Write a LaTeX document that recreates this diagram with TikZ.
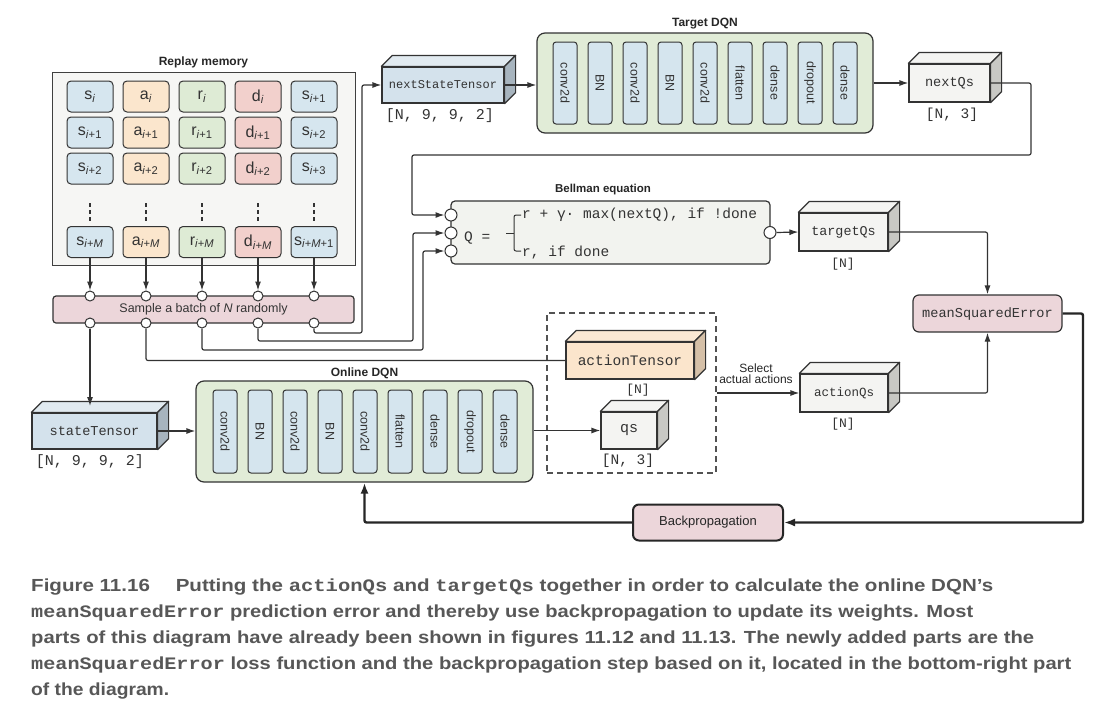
\documentclass[tikz,border=0pt]{standalone}
\usepackage{fontspec}
\setmainfont{Liberation Sans}
\setmonofont{Liberation Mono}
\usetikzlibrary{arrows.meta,calc}
\definecolor{lineC}{HTML}{333333}
\definecolor{sBlue}{HTML}{D6E6EF}
\definecolor{aOrange}{HTML}{FBE6CD}
\definecolor{rGreen}{HTML}{DEEBD5}
\definecolor{dRed}{HTML}{F2D0CC}
\definecolor{memBg}{HTML}{F6F6F4}
\definecolor{pinkBox}{HTML}{ECD6DA}
\definecolor{dqnGreen}{HTML}{E1ECD7}
\definecolor{layerBlue}{HTML}{D5E5EE}
\definecolor{tBlueF}{HTML}{D4E2EC}
\definecolor{tBlueT}{HTML}{E1EAF0}
\definecolor{tBlueS}{HTML}{A7B4BE}
\definecolor{gFront}{HTML}{F4F4F2}
\definecolor{gTop}{HTML}{F4F4F2}
\definecolor{gSide}{HTML}{C8C8C4}
\definecolor{oFront}{HTML}{FBE5CC}
\definecolor{oTop}{HTML}{FBE9D4}
\definecolor{oSide}{HTML}{D5C0A8}
\definecolor{bellBg}{HTML}{F2F3EF}
\definecolor{capC}{HTML}{575757}
\newcommand{\fsz}[1]{\fontsize{#1}{#1}\selectfont}
\newcommand{\capmono}[1]{{\ttfamily\bfseries #1}}
\newcommand{\tensorfaces}[4]{%
  \filldraw[draw=lineC, line width=1.2pt, fill=#2, line join=round]
    (#1.north west) -- ++(#4,-#4) -- ($(#1.north east)+(#4,-#4)$) -- (#1.north east) -- cycle;
  \filldraw[draw=lineC, line width=1.2pt, fill=#3, line join=round]
    (#1.north east) -- ++(#4,-#4) -- ($(#1.south east)+(#4,-#4)$) -- (#1.south east) -- cycle;}
\begin{document}
\begin{tikzpicture}[x=1pt,y=-1pt,
  cell/.style={draw=lineC, line width=1pt, rounded corners=4pt, minimum width=46pt, minimum height=31pt, inner sep=0pt, text=lineC, font=\fsz{16}},
  layer/.style={draw=lineC, line width=1pt, fill=layerBlue, rounded corners=3pt, minimum width=24pt, minimum height=82pt, inner sep=0pt, text=lineC, font=\fsz{12.5}},
  dqn/.style={draw=lineC, line width=1.2pt, fill=dqnGreen, rounded corners=8pt, inner sep=0pt},
  conn/.style={draw=lineC, line width=1.2pt, rounded corners=2pt},
  arr/.style={conn, -{Latex[length=9pt,width=6pt]}},
  heavy/.style={draw=black!85, line width=2.4pt, rounded corners=2pt},
  harr/.style={heavy, -{Latex[length=11pt,width=8pt]}},
  port/.style={circle, draw=lineC, line width=1pt, fill=white, minimum size=10pt, inner sep=0pt},
  bport/.style={port, minimum size=12pt},
  tensor/.style={draw=lineC, line width=1.2pt, inner sep=0pt, text=lineC},
  titlelab/.style={font=\bfseries\fsz{12}, text=black!85},
  dimlab/.style={font=\ttfamily\fsz{14.5}, text=lineC},
  caption/.style={anchor=base west, inner sep=0pt, text=capC, font=\bfseries\fsz{17.5}}
]
\fill[white] (0,0) rectangle (1120,710);
\useasboundingbox (0,0) rectangle (1120,710);

% ---------- Replay memory ----------
\node[draw=black!75, fill=memBg, line width=1pt, minimum width=303pt, minimum height=193pt, inner sep=0pt] (mem) at (203.5,168.5) {};
\node[titlelab] (memt) at (203.5,62) {Replay memory};
\foreach \col/\X/\L/\C in {1/90/s/sBlue,2/146/a/aOrange,3/202/r/rGreen,4/258/d/dRed}{
  \node[cell,fill=\C] (c\col-1) at (\X,96.5) {\L\textsubscript{\textit{i}}};
  \node[cell,fill=\C] (c\col-2) at (\X,132.5) {\L\textsubscript{\textit{i}+1}};
  \node[cell,fill=\C] (c\col-3) at (\X,168.5) {\L\textsubscript{\textit{i}+2}};
  \node[cell,fill=\C] (c\col-4) at (\X,242) {\L\textsubscript{\textit{i}+\textit{M}}};
}
\node[cell,fill=sBlue] (c5-1) at (314,96.5) {s\textsubscript{\textit{i}+1}};
\node[cell,fill=sBlue] (c5-2) at (314,132.5) {s\textsubscript{\textit{i}+2}};
\node[cell,fill=sBlue] (c5-3) at (314,168.5) {s\textsubscript{\textit{i}+3}};
\node[cell,fill=sBlue] (c5-4) at (314,242) {s\textsubscript{\textit{i}+\textit{M}+1}};
\foreach \X in {90,146,202,258,314}{
  \foreach \Y in {205,212,219}{
    \fill[lineC] (\X-1.4,\Y-1.6) rectangle (\X+1.4,\Y+1.6);
  }
}

% ---------- Sample batch ----------
\node[draw=lineC, fill=pinkBox, rounded corners=3pt, line width=1.2pt, minimum width=301pt, minimum height=27pt, inner sep=0pt, text=lineC, font=\fsz{12.5}] (batch) at (203.5,309.5) {Sample a batch of \textit{N} randomly};
\foreach \i/\X in {1/90,2/146,3/202,4/258,5/314}{
  \node[port] (pt\i) at (\X,296) {};
  \node[port] (pb\i) at (\X,323) {};
  \draw[arr] (c\i-4.south) -- (pt\i.north);
}

% ---------- Target DQN ----------
\node[dqn, minimum width=336pt, minimum height=100pt] (tdqn) at (705,83) {};
\node[titlelab] (tdqnt) at (705,24) {Target DQN};
\foreach \i/\t in {0/conv2d,1/BN,2/conv2d,3/BN,4/conv2d,5/flatten,6/dense,7/dropout,8/dense}{
  \node[layer] (tl\i) at ({565+35*\i},83) {\rotatebox{-90}{\t}};
}

% ---------- Online DQN ----------
\node[dqn, minimum width=337pt, minimum height=101pt] (odqn) at (364.5,431.5) {};
\node[titlelab] (odqnt) at (364.5,373) {Online DQN};
\foreach \i/\t in {0/conv2d,1/BN,2/conv2d,3/BN,4/conv2d,5/flatten,6/dense,7/dropout,8/dense}{
  \node[layer, minimum height=83pt] (ol\i) at ({225+35*\i},431.5) {\rotatebox{-90}{\t}};
}

% ---------- Tensors ----------
\node[tensor, fill=tBlueF, minimum width=122pt, minimum height=36pt, font=\ttfamily\fsz{12}] (nst) at (443,85) {nextStateTensor};
\tensorfaces{nst}{tBlueT}{tBlueS}{11}
\node[dimlab, font=\ttfamily\fsz{15}] (nstd) at (440,116) {[N, 9, 9, 2]};

\node[tensor, fill=tBlueF, minimum width=125pt, minimum height=36pt, font=\ttfamily\fsz{13.6}] (st) at (94.5,431) {stateTensor};
\tensorfaces{st}{tBlueT}{tBlueS}{11}
\node[dimlab, font=\ttfamily\fsz{15}] (std) at (90,462) {[N, 9, 9, 2]};

\node[tensor, fill=gFront, minimum width=81pt, minimum height=38pt, font=\ttfamily\fsz{13.6}] (nq) at (949.5,83) {nextQs};
\tensorfaces{nq}{gTop}{gSide}{11}
\node[dimlab] (nqd) at (952,115) {[N, 3]};

\node[tensor, fill=gFront, minimum width=89pt, minimum height=38pt, font=\ttfamily\fsz{13.4}] (tq) at (843.5,232) {targetQs};
\tensorfaces{tq}{gTop}{gSide}{11}
\node[dimlab, font=\ttfamily\fsz{13}] (tqd) at (843,264) {[N]};

\node[tensor, fill=oFront, minimum width=128pt, minimum height=37pt, font=\ttfamily\fsz{14.5}] (at) at (630,360.5) {actionTensor};
\tensorfaces{at}{oTop}{oSide}{11}
\node[dimlab, font=\ttfamily\fsz{13}] (atd) at (638,390) {[N]};

\node[tensor, fill=gFront, minimum width=56pt, minimum height=37pt, font=\ttfamily\fsz{15}] (qsn) at (629,430.5) {qs};
\tensorfaces{qsn}{gTop}{gSide}{11}
\node[dimlab] (qsd) at (628,461) {[N, 3]};

\node[tensor, fill=gFront, minimum width=88pt, minimum height=38pt, font=\ttfamily\fsz{12.5}] (aq) at (844,393) {actionQs};
\tensorfaces{aq}{gTop}{gSide}{11}
\node[dimlab, font=\ttfamily\fsz{13}] (aqd) at (843,424) {[N]};

% ---------- Dashed group ----------
\node[draw=lineC!85, dashed, dash pattern=on 6pt off 4pt, line width=1.2pt, minimum width=169pt, minimum height=160pt, inner sep=0pt] (grp) at (631.5,393) {};
\node[font=\fsz{12}, align=center, text=black!85, inner sep=0pt] (sel) at (756,374) {Select\\[-1pt]actual actions};

% ---------- Bellman ----------
\node[draw=lineC, fill=bellBg, rounded corners=4pt, line width=1.2pt, minimum width=319pt, minimum height=63pt, inner sep=0pt] (bell) at (610.5,232.5) {};
\node[titlelab, font=\bfseries\fsz{11.5}] (bellt) at (603,190) {Bellman equation};
\node[bport] (bc1) at (451,215) {};
\node[bport] (bc2) at (451,233) {};
\node[bport] (bc3) at (451,251) {};
\node[bport] (bout) at (770,232.5) {};
\node[anchor=west, inner sep=0pt, text=lineC, font=\ttfamily\fsz{14.5}] (qeq) at (464,238) {Q =};
\draw[conn, line width=1pt] (521,215) -- (514,215) -- (514,251) -- (521,251);
\draw[draw=lineC, line width=1pt] (514,233) -- (506,233);
\node[anchor=west, inner sep=0pt, text=lineC, font=\ttfamily\fsz{14.5}] (eq1) at (522,215) {r + γ· max(nextQ), if !done};
\node[anchor=west, inner sep=0pt, text=lineC, font=\ttfamily\fsz{14.5}] (eq2) at (522,253) {r, if done};

% ---------- MSE and Backprop ----------
\node[draw=lineC, fill=pinkBox, rounded corners=6pt, line width=1.2pt, minimum width=149pt, minimum height=37pt, inner sep=0pt, text=lineC, font=\ttfamily\fsz{13.6}] (mse) at (987.5,313.5) {meanSquaredError};
\node[draw=black!85, fill=pinkBox, rounded corners=6pt, line width=2pt, minimum width=150pt, minimum height=36pt, inner sep=0pt, text=black!85, font=\fsz{13}] (bp) at (708,522.5) {Backpropagation};

% ---------- Connectors ----------
\draw[arr] (nst.east) -- (tdqn.west |- nst.east);
\draw[arr] (tdqn.east |- nq.west) -- (nq.west);
\draw[arr] (nq.east) -| (1031,155) -| (412,215) -- (bc1.west);
\draw[arr] (pb5.south) |- (362,333) |- (nst.west);
\draw[arr] (pb4.south) |- (413,341) |- (bc2.west);
\draw[arr] (pb3.south) |- (423,350) |- (bc3.west);
\draw[conn] (pb2.south) |- (at.west);
\coordinate (sttop) at (90,406);
\draw[arr] (pb1.south) -- (sttop);
\draw[arr] (st.east) -- (odqn.west |- st.east);
\draw[arr] (odqn.east |- qsn.west) -- (qsn.west);
\draw[arr] (grp.east |- aq.west) -- (aq.west);
\draw[arr] (bout.east) -- (tq.west);
\draw[arr] (tq.east) -| (mse.north);
\draw[arr] (aq.east) -| (mse.south);
\draw[harr] (mse.east) -| ($(bp.east)+(299,0)$) -- (bp.east);
\draw[harr] (bp.west) -| (odqn.south);

% ---------- Caption ----------
\node[caption] (cap1) at (31,591) {\resizebox{962pt}{\height}{Figure 11.16\hspace{22pt}Putting the \capmono{actionQs} and \capmono{targetQs} together in order to calculate the online DQN’s}};
\node[caption] (cap2) at (31,617) {\resizebox{942pt}{\height}{\capmono{meanSquaredError} prediction error and thereby use backpropagation to update its weights. Most}};
\node[caption] (cap3) at (31,643) {\resizebox{1003pt}{\height}{parts of this diagram have already been shown in figures 11.12 and 11.13. The newly added parts are the}};
\node[caption] (cap4) at (31,669) {\resizebox{1040pt}{\height}{\capmono{meanSquaredError} loss function and the backpropagation step based on it, located in the bottom-right part}};
\node[caption] (cap5) at (31,695) {\resizebox{138pt}{\height}{of the diagram.}};
\end{tikzpicture}
\end{document}
